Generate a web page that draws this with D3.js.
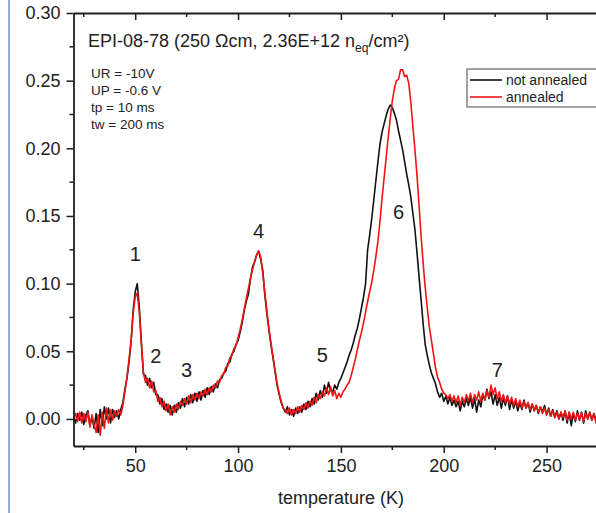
<!DOCTYPE html>
<html>
<head>
<meta charset="utf-8">
<style type="text/css">
	body { margin: 0; background: #fff; }
	.vis-dlts { width: 596px; height: 513px; }
	.axis path, .axis line { stroke: #1e1e1e; }
	.axis path { stroke-width: 1.8; }
	.axis line { stroke-width: 1.5; }
	.axis text { font-family: "Liberation Sans", Arial, sans-serif; font-size: 18px; fill: #222; }
	.line-not { stroke: #111; stroke-width: 1.6; fill: none; stroke-linejoin: round; }
	.line-ann { stroke: #f01414; stroke-width: 1.6; fill: none; stroke-linejoin: round; }
	.lbl { font-family: "Liberation Sans", Arial, sans-serif; fill: #222; }
</style>
</head>
<body>
<div class="vis-dlts"></div>

<script src="https://d3js.org/d3.v7.min.js"></script>
<script>

	// Data //
	// ---- //

	// temperature grid (K)
	let temperature = [
		20,21,22,23,24,25,26,27,28,29,30,31,32,33,34,35,36,37,38,39,
		40,41,42,43,44,45,46,47,48,49,50,51,52,53,54,55,56,57,58,59,
		60,61,62,63,64,65,66,67,68,69,70,71,72,73,74,75,76,77,78,79,
		80,81,82,83,84,85,86,87,88,89,90,91,92,93,94,95,96,97,98,99,
		100,101,102,103,104,105,106,107,108,109,110,111,112,113,114,115,116,117,118,119,
		120,121,122,123,124,125,126,127,128,129,130,131,132,133,134,135,136,137,138,139,
		140,141,142,143,144,145,146,147,148,149,150,151,152,153,154,155,156,157,158,159,
		160,161,162,163,164,165,166,167,168,169,170,171,172,173,174,175,176,177,178,179,
		180,181,182,183,184,185,186,187,188,189,190,191,192,193,194,195,196,197,198,199,
		200,201,202,203,204,205,206,207,208,209,210,211,212,213,214,215,216,217,218,219,
		220,221,222,223,224,225,226,227,228,229,230,231,232,233,234,235,236,237,238,239,
		240,241,242,243,244,245,246,247,248,249,250,251,252,253,254,255,256,257,258,259,
		260,261,262,263,264,265,266,267,268,269,270,271,272,273,274,275
	];

	// DLTS signal, not annealed
	let notAnnealed = [
		0.002,-0.003,0.004,-0.001,0.005,-0.004,0.003,0.006,-0.005,0.002,-0.007,0.004,-0.010,0.007,-0.005,0.009,0.000,0.008,-0.003,0.007,
		0.001,0.006,0.000,0.007,0.012,0.022,0.030,0.042,0.057,0.080,0.094,0.100,0.082,0.057,0.033,0.032,0.025,0.030,0.023,0.027,
		0.018,0.018,0.011,0.015,0.007,0.011,0.005,0.010,0.003,0.010,0.005,0.012,0.008,0.015,0.009,0.016,0.011,0.018,0.012,0.019,
		0.013,0.020,0.014,0.021,0.016,0.023,0.018,0.024,0.020,0.026,0.023,0.029,0.030,0.034,0.035,0.041,0.042,0.048,0.050,0.055,
		0.058,0.064,0.071,0.080,0.087,0.092,0.103,0.112,0.116,0.121,0.124,0.118,0.110,0.092,0.078,0.066,0.055,0.045,0.035,0.025,
		0.018,0.012,0.008,0.005,0.009,0.003,0.007,0.002,0.008,0.004,0.009,0.005,0.011,0.007,0.013,0.009,0.015,0.011,0.019,0.014,
		0.021,0.016,0.025,0.019,0.027,0.021,0.020,0.025,0.022,0.027,0.030,0.034,0.038,0.042,0.047,0.051,0.056,0.062,0.067,0.074,
		0.082,0.090,0.100,0.125,0.136,0.148,0.162,0.176,0.190,0.203,0.212,0.218,0.224,0.229,0.232,0.230,0.226,0.221,0.213,0.206,
		0.199,0.190,0.181,0.173,0.164,0.152,0.140,0.123,0.105,0.088,0.070,0.055,0.047,0.040,0.034,0.030,0.026,0.020,0.016,0.019,
		0.013,0.017,0.011,0.016,0.010,0.014,0.009,0.013,0.006,0.013,0.009,0.015,0.010,0.016,0.008,0.015,0.005,0.014,0.009,0.018,
		0.014,0.022,0.015,0.020,0.011,0.018,0.010,0.016,0.008,0.015,0.010,0.017,0.007,0.014,0.008,0.013,0.006,0.012,0.007,0.014,
		0.008,0.012,0.005,0.011,0.006,0.010,0.004,0.009,0.005,0.010,0.003,0.008,0.002,0.007,0.001,0.006,0.000,0.005,-0.001,0.006,
		-0.003,0.005,-0.005,0.004,-0.002,0.006,-0.001,0.005,-0.003,0.006,0.000,0.005,-0.001,0.004,0.000,0.003
	];

	// DLTS signal, annealed
	let annealed = [
		0.000,0.004,-0.002,0.005,-0.003,0.004,-0.002,0.005,-0.006,0.003,-0.004,-0.010,0.003,-0.012,0.005,-0.007,0.008,-0.003,0.007,-0.001,
		0.006,0.002,0.007,0.003,0.010,0.020,0.031,0.044,0.058,0.078,0.090,0.093,0.079,0.055,0.034,0.027,0.030,0.023,0.028,0.020,
		0.021,0.013,0.016,0.009,0.013,0.006,0.011,0.003,0.009,0.005,0.011,0.007,0.013,0.010,0.015,0.011,0.017,0.012,0.018,0.014,
		0.019,0.015,0.020,0.017,0.022,0.018,0.023,0.020,0.025,0.023,0.028,0.027,0.032,0.033,0.038,0.039,0.045,0.047,0.052,0.054,
		0.060,0.066,0.073,0.081,0.089,0.096,0.104,0.110,0.116,0.121,0.124,0.120,0.108,0.094,0.080,0.067,0.056,0.046,0.036,0.026,
		0.019,0.013,0.008,0.006,0.004,0.008,0.003,0.007,0.004,0.009,0.005,0.010,0.007,0.012,0.008,0.013,0.010,0.016,0.012,0.018,
		0.015,0.020,0.017,0.023,0.018,0.024,0.017,0.021,0.015,0.019,0.016,0.020,0.022,0.025,0.027,0.032,0.038,0.044,0.051,0.058,
		0.064,0.071,0.079,0.087,0.094,0.101,0.110,0.120,0.131,0.146,0.163,0.178,0.193,0.208,0.222,0.235,0.244,0.250,0.251,0.258,
		0.258,0.253,0.254,0.248,0.234,0.216,0.199,0.180,0.158,0.135,0.115,0.097,0.082,0.068,0.058,0.048,0.038,0.031,0.027,0.022,
		0.019,0.018,0.015,0.018,0.013,0.017,0.012,0.017,0.010,0.016,0.012,0.018,0.013,0.019,0.012,0.018,0.014,0.020,0.013,0.019,
		0.014,0.021,0.016,0.025,0.018,0.023,0.015,0.020,0.013,0.018,0.012,0.017,0.011,0.016,0.010,0.015,0.009,0.014,0.008,0.013,
		0.008,0.012,0.007,0.011,0.006,0.010,0.005,0.009,0.004,0.008,0.003,0.007,0.002,0.006,0.001,0.005,0.000,0.005,0.001,0.006,
		-0.001,0.005,0.000,0.005,-0.001,0.004,0.000,0.005,-0.002,0.004,0.000,0.005,-0.001,0.004,-0.003,0.003
	];

	// axis ticks
	let xMajor = [50, 100, 150, 200, 250];
	let xMinor = [25, 75, 125, 175, 225, 275];
	let yMajor = [0.00, 0.05, 0.10, 0.15, 0.20, 0.25, 0.30];
	let yMinor = [0.025, 0.075, 0.125, 0.175, 0.225, 0.275];

	// peak labels
	let peakNames = ["1", "2", "3", "4", "5", "6", "7"];
	let peakT = [50, 60, 75, 110, 141, 178, 226];
	let peakV = [0.117, 0.041, 0.031, 0.134, 0.042, 0.148, 0.031];

	let legendNames = ["not annealed", "annealed"];
	let legendClasses = ["line-not", "line-ann"];

	let params = ["UR = -10V", "UP = -0.6 V", "tp = 10 ms", "tw = 200 ms"];

	// Setup //
	// ----- //

	let W = 596, H = 513;
	let x = d3.scaleLinear().domain([20, 275]).range([73.5, 598]);
	let y = d3.scaleLinear().domain([-0.02, 0.30]).range([446, 13]);

	let svg = d3.select(".vis-dlts").append("svg")
		.attr("width", W)
		.attr("height", H);

	svg.append("rect").attr("width", W).attr("height", H).style("fill", "#fff");

	// slide border on the left
	svg.append("line")
		.attr("x1", 9).attr("x2", 9).attr("y1", 0).attr("y2", H)
		.style("stroke", "#6a93d6").style("stroke-width", 1.5);

	svg.append("defs").append("clipPath").attr("id", "clip")
		.append("rect")
		.attr("x", x(20)).attr("y", y(0.30))
		.attr("width", x(275) - x(20)).attr("height", y(-0.02) - y(0.30));

	// Curves
	let valueline = d3.line()
		.x(d => x(d[0]))
		.y(d => y(d[1]));

	svg.append("path")
		.datum(zip(temperature, notAnnealed))
		.attr("class", "line-not")
		.attr("clip-path", "url(#clip)")
		.attr("d", valueline);
	svg.append("path")
		.datum(zip(temperature, annealed))
		.attr("class", "line-ann")
		.attr("clip-path", "url(#clip)")
		.attr("d", valueline);

	// Axes
	let xAxis = d3.axisBottom(x).tickValues(xMajor).tickSize(7).tickSizeOuter(0).tickPadding(6);
	let gx = svg.append("g")
		.attr("class", "x axis")
		.attr("transform", "translate(0," + y(-0.02) + ")")
		.call(xAxis);
	gx.selectAll(".minor").data(xMinor).enter().append("line")
		.attr("class", "minor")
		.attr("x1", d => x(d)).attr("x2", d => x(d))
		.attr("y1", 0).attr("y2", 4);

	let xTop = d3.axisBottom(x).tickValues(xMajor).tickSize(7).tickSizeOuter(0).tickFormat("");
	let gt = svg.append("g")
		.attr("class", "x axis")
		.attr("transform", "translate(0," + y(0.30) + ")")
		.call(xTop);
	gt.selectAll(".minor").data(xMinor).enter().append("line")
		.attr("class", "minor")
		.attr("x1", d => x(d)).attr("x2", d => x(d))
		.attr("y1", 0).attr("y2", 4);

	let yAxis = d3.axisLeft(y).tickValues(yMajor).tickSize(7).tickSizeOuter(0).tickPadding(6)
		.tickFormat(d3.format(".2f"));
	let gy = svg.append("g")
		.attr("class", "y axis")
		.attr("transform", "translate(" + x(20) + ",0)")
		.call(yAxis);
	gy.selectAll(".minor").data(yMinor).enter().append("line")
		.attr("class", "minor")
		.attr("x1", -4).attr("x2", 0)
		.attr("y1", d => y(d)).attr("y2", d => y(d));

	// X LABEL
	svg.append("text")
		.attr("class", "lbl")
		.attr("x", 341)
		.attr("y", 504)
		.style("text-anchor", "middle")
		.style("font-size", "18px")
		.text("temperature (K)");

	// TITLE
	let title = svg.append("text")
		.attr("class", "lbl")
		.attr("x", 88)
		.attr("y", 47)
		.style("font-size", "18px");
	title.append("tspan").text("EPI-08-78 (250 \u03A9cm, 2.36E+12 n");
	title.append("tspan").attr("dy", 5).style("font-size", "12px").text("eq");
	title.append("tspan").attr("dy", -5).text("/cm\u00B2)");

	// Parameters
	svg.selectAll(".param").data(params).enter().append("text")
		.attr("class", "lbl param")
		.attr("x", 91)
		.attr("y", (d, i) => 78 + i * 17)
		.style("font-size", "13.5px")
		.text(d => d);

	// Peak labels
	svg.selectAll(".peak").data(peakNames).enter().append("text")
		.attr("class", "lbl peak")
		.attr("x", (d, i) => x(peakT[i]))
		.attr("y", (d, i) => y(peakV[i]))
		.style("text-anchor", "middle")
		.style("font-size", "20px")
		.text(d => d);

	// Legend
	let legend = svg.append("g").attr("transform", "translate(467,69)");
	legend.append("rect")
		.attr("width", 130).attr("height", 38)
		.style("fill", "#fff").style("stroke", "#444").style("stroke-width", 1);
	legendNames.forEach((name, i) => {
		legend.append("line")
			.attr("class", legendClasses[i])
			.attr("x1", 3).attr("x2", 35)
			.attr("y1", 11 + i * 17).attr("y2", 11 + i * 17)
			.style("stroke-width", 1.6);
		legend.append("text")
			.attr("class", "lbl")
			.attr("x", 39)
			.attr("y", 16 + i * 17)
			.style("font-size", "14px")
			.text(name);
	});

	// Utilities
	function zip(a, b) {
		return a.map((e, i) => [e, b[i]]);
	}
</script>
</body>
</html>
